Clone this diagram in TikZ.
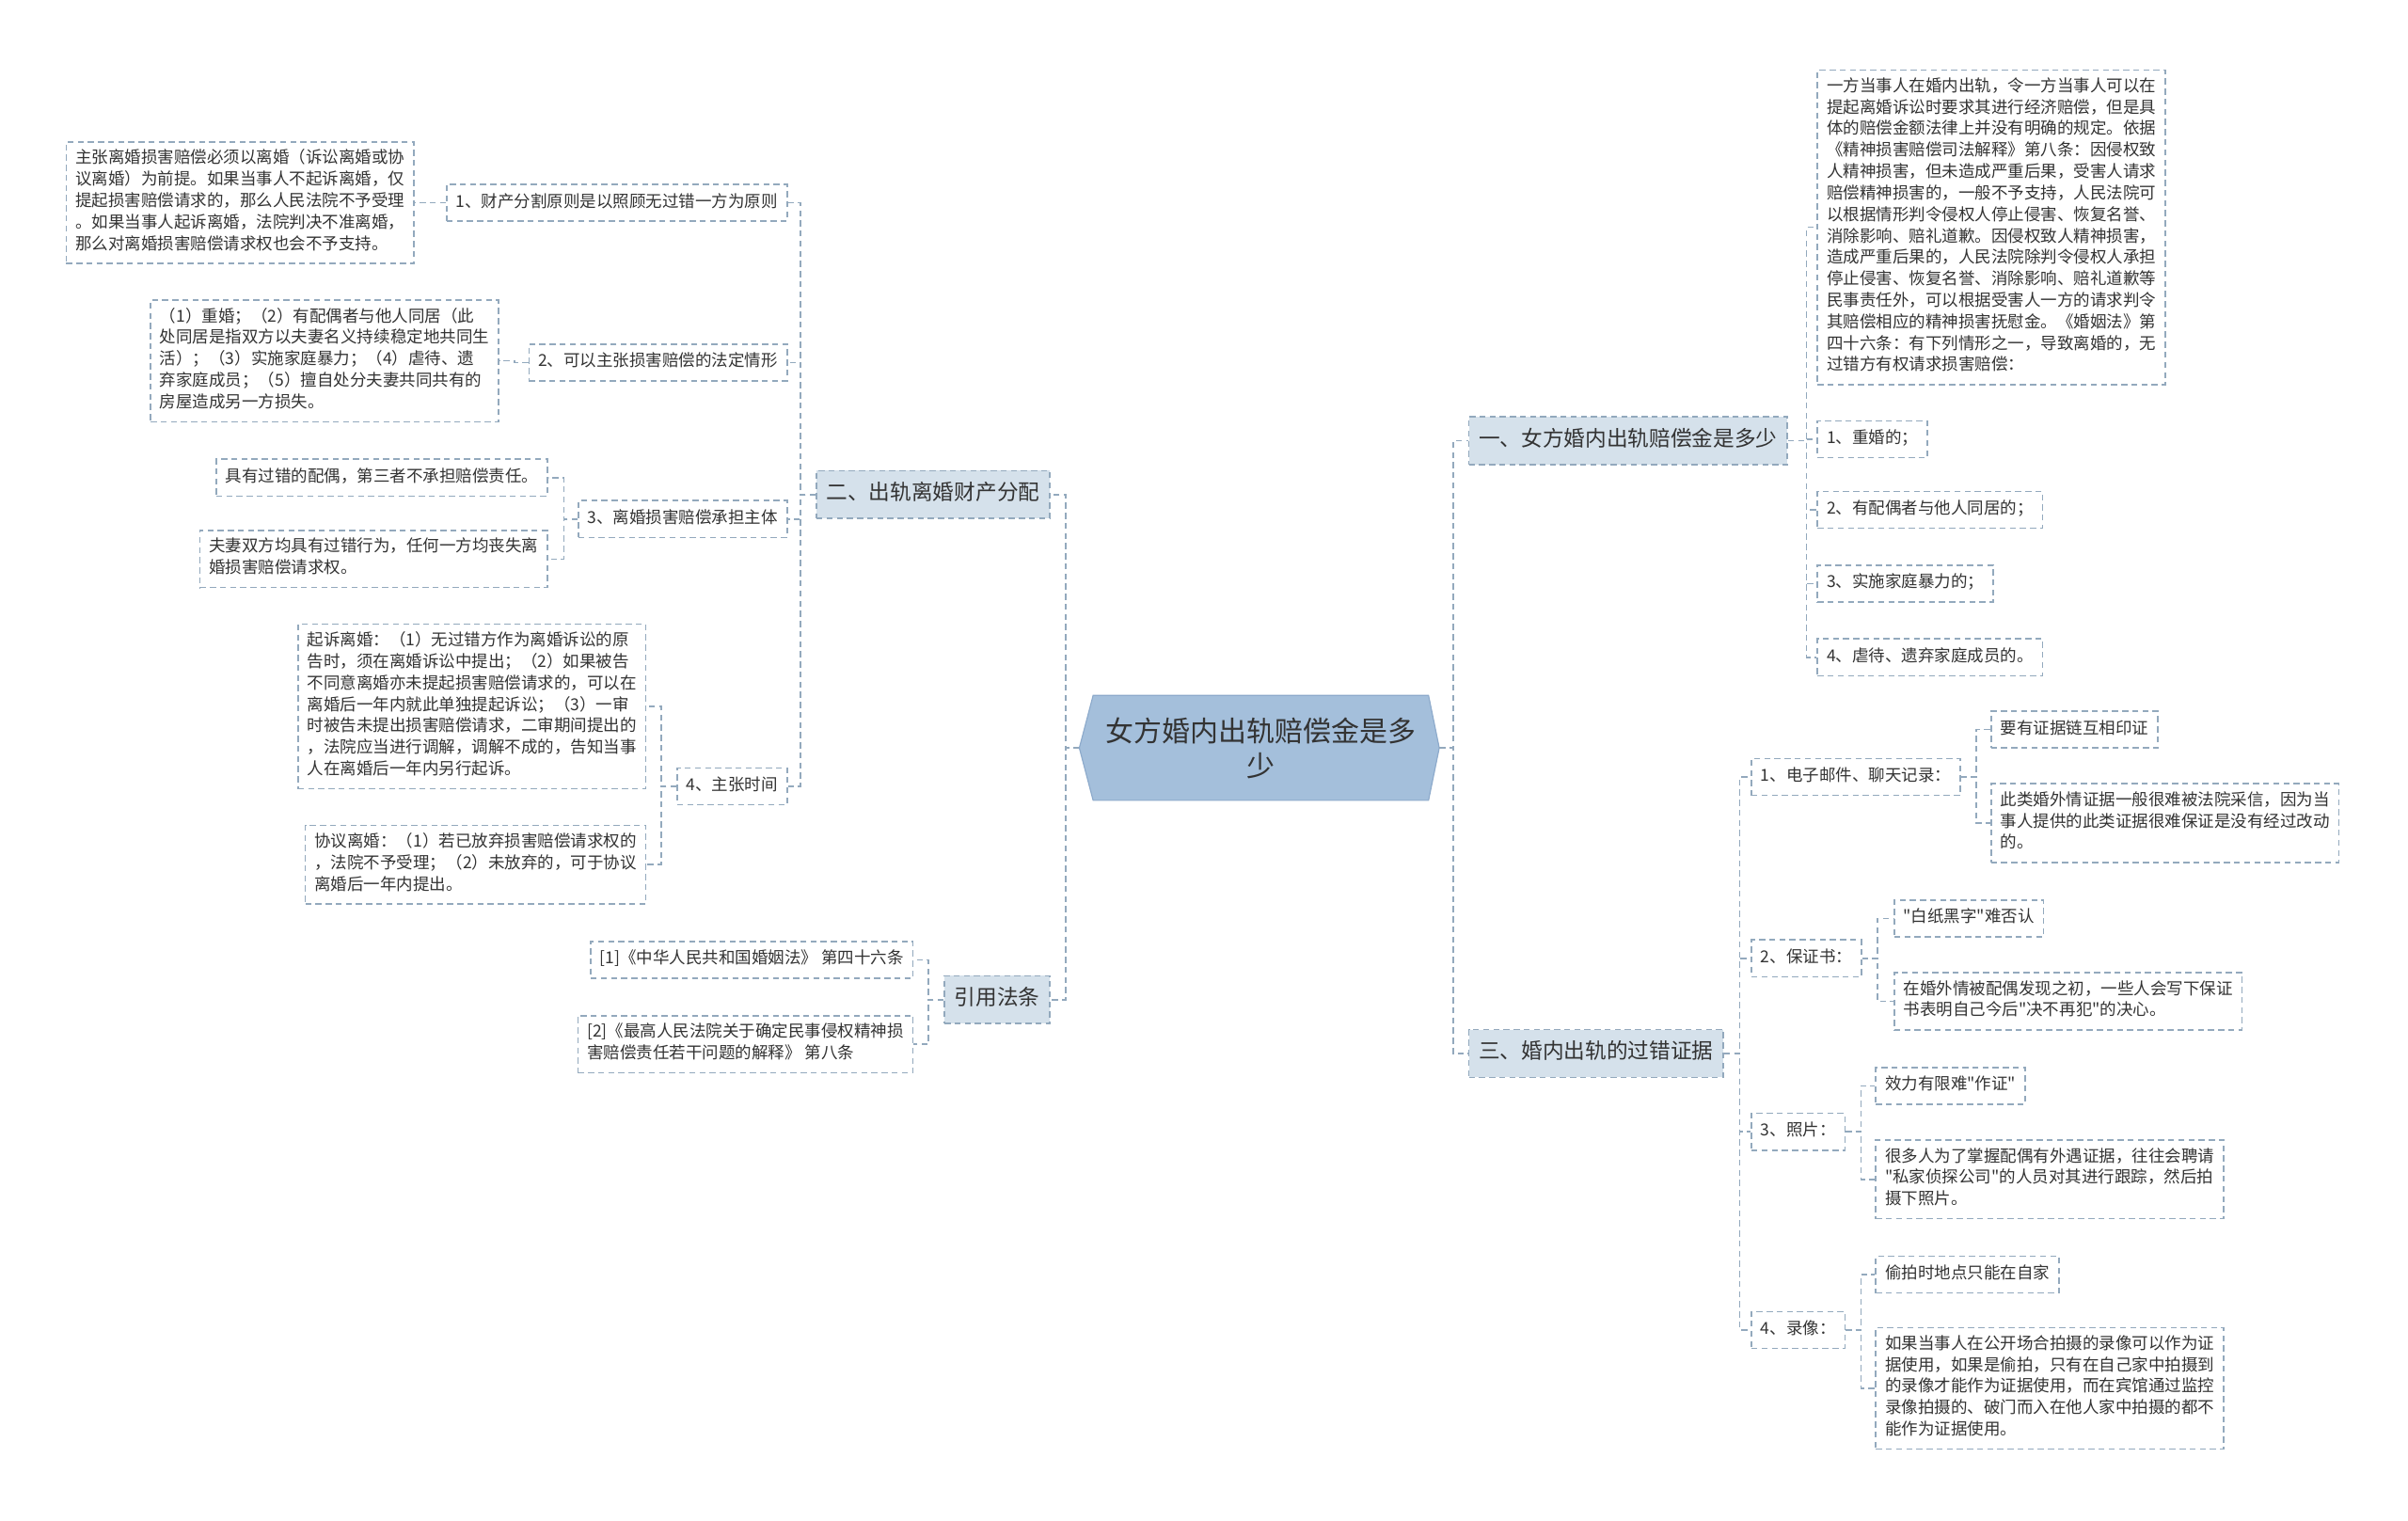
\documentclass[tikz,border=0pt]{standalone}
\usepackage{fontspec}
\defaultfontfeatures[\rmfamily]{}
\setmainfont{Noto Sans CJK SC}
\newfontfamily\cjk{Noto Sans CJK SC}
\usetikzlibrary{calc,backgrounds}
\definecolor{lineC}{HTML}{93A9BD}
\definecolor{lvlF}{HTML}{D5E1EB}
\definecolor{centerF}{HTML}{A4BFDB}
\definecolor{centerD}{HTML}{8DAACB}
\definecolor{txt}{HTML}{333333}
\begin{document}
\begin{tikzpicture}[x=0.04cm,y=-0.04cm,
  conn/.style={draw=lineC, line width=1.1pt, dash pattern=on 4.5pt off 3pt},
  leaf/.style={draw=lineC, line width=1.1pt, dash pattern=on 4.5pt off 3pt, fill=white, text=txt,
    font=\cjk\fontsize{12.2}{15.9}\selectfont, align=left, inner xsep=0.24cm, inner ysep=0.2cm,
    execute at begin node=\strut, execute at end node=\strut},
  topic/.style={draw=lineC, line width=1.1pt, dash pattern=on 4.5pt off 3pt, fill=lvlF, text=txt,
    font=\cjk\fontsize{15.8}{20}\selectfont, align=left, inner xsep=0.26cm, inner ysep=0.27cm,
    execute at begin node=\strut, execute at end node=\strut},
  centre/.style={text=txt, font=\cjk\fontsize{20.9}{26}\selectfont, align=center,
    minimum width=8.72cm, minimum height=2.72cm, inner sep=0pt}
  ]
\begin{scope}[on background layer]
\fill[white] (0,0) rectangle (1568,990);
\end{scope}
\useasboundingbox (0,0) rectangle (1568,990);

% central topic
\node[centre] (c) at (821,487) {女方婚内出轨赔偿金是多\\少};
\coordinate (cL) at ($(c.west)+(-9,0)$);
\coordinate (cR) at ($(c.east)+(7,0)$);
\begin{scope}[on background layer]
\filldraw[fill=centerF, draw=centerD, line width=0.8pt] (c.north west) -- (c.north east) -- (cR) -- (c.south east) -- (c.south west) -- (cL) -- cycle;
\end{scope}

% level 1
\node[topic, anchor=west] (n1) at (956,287) {一、女方婚内出轨赔偿金是多少};
\node[topic, anchor=west] (n3) at (956,686) {三、婚内出轨的过错证据};
\node[topic, anchor=east] (n2) at (684,322) {二、出轨离婚财产分配};
\node[topic, anchor=east] (n4) at (684,651) {引用法条};

% branch 二
\node[leaf, anchor=east] (a1) at (513,132) {1、财产分割原则是以照顾无过错一方为原则};
\node[leaf, anchor=east] (a2) at (513,236) {2、可以主张损害赔偿的法定情形};
\node[leaf, anchor=east] (a3) at (513,338) {3、离婚损害赔偿承担主体};
\node[leaf, anchor=east] (a4) at (513,512) {4、主张时间};

\node[leaf, anchor=east] (a1c) at (270,132) {主张离婚损害赔偿必须以离婚（诉讼离婚或协\\议离婚）为前提。如果当事人不起诉离婚，仅\\提起损害赔偿请求的，那么人民法院不予受理\\。如果当事人起诉离婚，法院判决不准离婚，\\那么对离婚损害赔偿请求权也会不予支持。};
\node[leaf, anchor=east] (a2c) at (325,235) {（1）重婚；（2）有配偶者与他人同居（此\\处同居是指双方以夫妻名义持续稳定地共同生\\活）；（3）实施家庭暴力；（4）虐待、遗\\弃家庭成员；（5）擅自处分夫妻共同共有的\\房屋造成另一方损失。};
\node[leaf, anchor=east] (a3c1) at (357,311) {具有过错的配偶，第三者不承担赔偿责任。};
\node[leaf, anchor=east] (a3c2) at (357,364) {夫妻双方均具有过错行为，任何一方均丧失离\\婚损害赔偿请求权。};
\node[leaf, anchor=east] (a4c1) at (421,460) {起诉离婚：（1）无过错方作为离婚诉讼的原\\告时，须在离婚诉讼中提出；（2）如果被告\\不同意离婚亦未提起损害赔偿请求的，可以在\\离婚后一年内就此单独提起诉讼；（3）一审\\时被告未提出损害赔偿请求，二审期间提出的\\，法院应当进行调解，调解不成的，告知当事\\人在离婚后一年内另行起诉。};
\node[leaf, anchor=east] (a4c2) at (421,563) {协议离婚：（1）若已放弃损害赔偿请求权的\\，法院不予受理；（2）未放弃的，可于协议\\离婚后一年内提出。};

% branch 引用法条
\node[leaf, anchor=east] (r1) at (595,625) {[1]《中华人民共和国婚姻法》 第四十六条};
\node[leaf, anchor=east] (r2) at (595,680) {[2]《最高人民法院关于确定民事侵权精神损\\害赔偿责任若干问题的解释》 第八条};

% branch 一
\node[leaf, anchor=west] (b0) at (1183,148) {一方当事人在婚内出轨，令一方当事人可以在\\提起离婚诉讼时要求其进行经济赔偿，但是具\\体的赔偿金额法律上并没有明确的规定。依据\\《精神损害赔偿司法解释》第八条：因侵权致\\人精神损害，但未造成严重后果，受害人请求\\赔偿精神损害的，一般不予支持，人民法院可\\以根据情形判令侵权人停止侵害、恢复名誉、\\消除影响、赔礼道歉。因侵权致人精神损害，\\造成严重后果的，人民法院除判令侵权人承担\\停止侵害、恢复名誉、消除影响、赔礼道歉等\\民事责任外，可以根据受害人一方的请求判令\\其赔偿相应的精神损害抚慰金。《婚姻法》第\\四十六条：有下列情形之一，导致离婚的，无\\过错方有权请求损害赔偿：};
\node[leaf, anchor=west] (b1) at (1183,286) {1、重婚的；};
\node[leaf, anchor=west] (b2) at (1183,332) {2、有配偶者与他人同居的；};
\node[leaf, anchor=west] (b3) at (1183,380) {3、实施家庭暴力的；};
\node[leaf, anchor=west] (b4) at (1183,428) {4、虐待、遗弃家庭成员的。};

% branch 三
\node[leaf, anchor=west] (d1) at (1140,506) {1、电子邮件、聊天记录：};
\node[leaf, anchor=west] (d2) at (1140,624) {2、保证书：};
\node[leaf, anchor=west] (d3) at (1140,737) {3、照片：};
\node[leaf, anchor=west] (d4) at (1140,866) {4、录像：};

\node[leaf, anchor=west] (d1a) at (1296,475) {要有证据链互相印证};
\node[leaf, anchor=west] (d1b) at (1296,536) {此类婚外情证据一般很难被法院采信，因为当\\事人提供的此类证据很难保证是没有经过改动\\的。};
\node[leaf, anchor=west] (d2a) at (1233,598) {"白纸黑字"难否认};
\node[leaf, anchor=west] (d2b) at (1233,652) {在婚外情被配偶发现之初，一些人会写下保证\\书表明自己今后"决不再犯"的决心。};
\node[leaf, anchor=west] (d3a) at (1221,707) {效力有限难"作证"};
\node[leaf, anchor=west] (d3b) at (1221,768) {很多人为了掌握配偶有外遇证据，往往会聘请\\"私家侦探公司"的人员对其进行跟踪，然后拍\\摄下照片。};
\node[leaf, anchor=west] (d4a) at (1221,830) {偷拍时地点只能在自家};
\node[leaf, anchor=west] (d4b) at (1221,904) {如果当事人在公开场合拍摄的录像可以作为证\\据使用，如果是偷拍，只有在自己家中拍摄到\\的录像才能作为证据使用，而在宾馆通过监控\\录像拍摄的、破门而入在他人家中拍摄的都不\\能作为证据使用。};

% connectors: centre
\draw[conn] (cL) -- ++(-9,0) |- (n2.east);
\draw[conn] (cL) -- ++(-9,0) |- (n4.east);
\draw[conn] (cR) -- ++(9,0) |- (n1.west);
\draw[conn] (cR) -- ++(9,0) |- (n3.west);

% 二
\foreach \ch in {a1,a2,a3,a4} \draw[conn] (n2.west) -- ++(-10,0) |- (\ch.east);
\draw[conn] (a1.west) -- ++(-10,0) |- (a1c.east);
\draw[conn] (a2.west) -- ++(-9,0) |- (a2c.east);
\foreach \ch in {a3c1,a3c2} \draw[conn] (a3.west) -- ++(-9,0) |- (\ch.east);
\foreach \ch in {a4c1,a4c2} \draw[conn] (a4.west) -- ++(-10,0) |- (\ch.east);

% 引用法条
\foreach \ch in {r1,r2} \draw[conn] (n4.west) -- ++(-10,0) |- (\ch.east);

% 一
\foreach \ch in {b0,b1,b2,b3,b4} \draw[conn] (n1.east) -- ++(12,0) |- (\ch.west);

% 三
\foreach \ch in {d1,d2,d3,d4} \draw[conn] (n3.east) -- ++(10,0) |- (\ch.west);
\foreach \ch in {d1a,d1b} \draw[conn] (d1.east) -- ++(10,0) |- (\ch.west);
\foreach \ch in {d2a,d2b} \draw[conn] (d2.east) -- ++(10,0) |- (\ch.west);
\foreach \ch in {d3a,d3b} \draw[conn] (d3.east) -- ++(10,0) |- (\ch.west);
\foreach \ch in {d4a,d4b} \draw[conn] (d4.east) -- ++(10,0) |- (\ch.west);
\end{tikzpicture}
\end{document}
